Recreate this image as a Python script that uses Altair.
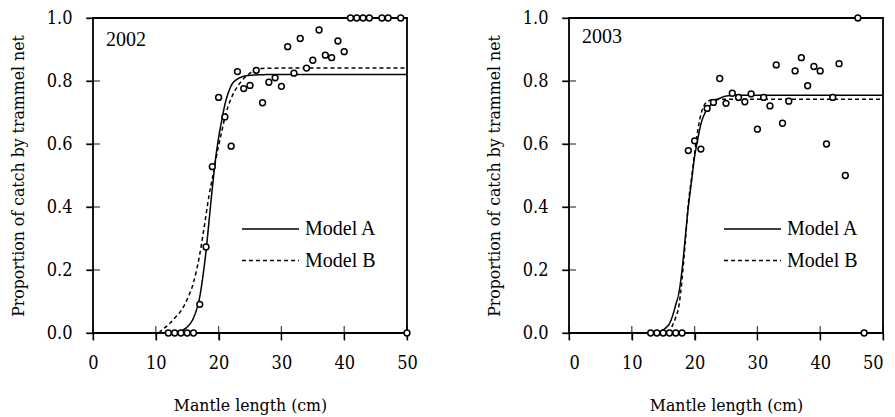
import altair as alt
import pandas as pd

# ---------------- data ----------------
years = ["2002", "2003"]

x2002 = [12, 13, 14, 15, 16, 17, 18, 19, 20, 21, 22, 23, 24, 25, 26, 27, 28, 29, 30,
         31, 32, 33, 34, 35, 36, 37, 38, 39, 40, 41, 42, 43, 44, 46, 47, 49, 50]
p2002 = [0, 0, 0, 0, 0, 0.091, 0.273, 0.528, 0.748, 0.686, 0.593, 0.830, 0.776, 0.786,
         0.834, 0.731, 0.796, 0.810, 0.783, 0.909, 0.825, 0.935, 0.841, 0.866, 0.962,
         0.882, 0.874, 0.927, 0.893, 1, 1, 1, 1, 1, 1, 1, 0]

x2003 = [13, 14, 15, 16, 17, 18, 19, 20, 21, 22, 23, 24, 25, 26, 27, 28, 29, 30, 31,
         32, 33, 34, 35, 36, 37, 38, 39, 40, 41, 42, 43, 44, 46, 47]
p2003 = [0, 0, 0, 0, 0, 0, 0.579, 0.610, 0.584, 0.713, 0.732, 0.808, 0.729, 0.761,
         0.748, 0.734, 0.759, 0.647, 0.748, 0.721, 0.851, 0.666, 0.736, 0.832, 0.874,
         0.785, 0.846, 0.832, 0.600, 0.748, 0.855, 0.500, 1.0, 0.0]

# fitted curves
a2002_x = [12, 13, 14, 15, 16, 16.5, 17, 17.5, 18, 18.5, 19, 19.5, 20, 20.5, 21, 21.5,
           22, 23, 24, 25, 27, 30, 40, 50]
a2002_y = [0.001, 0.003, 0.007, 0.019, 0.048, 0.075, 0.115, 0.18, 0.26, 0.36, 0.46,
           0.55, 0.62, 0.675, 0.725, 0.76, 0.785, 0.806, 0.815, 0.818, 0.82, 0.821,
           0.821, 0.821]
b2002_x = [10.5, 11, 12, 13, 14, 15, 16, 17, 17.5, 18, 18.5, 19, 19.5, 20, 20.5, 21,
           22, 23, 24, 25, 26, 27, 30, 40, 50]
b2002_y = [0, 0.01, 0.026, 0.047, 0.07, 0.107, 0.16, 0.25, 0.31, 0.375, 0.44, 0.49,
           0.545, 0.595, 0.64, 0.685, 0.745, 0.782, 0.808, 0.825, 0.836, 0.84, 0.841,
           0.841, 0.841]

a2003_x = [13.5, 14, 15, 15.5, 16, 16.5, 17, 17.5, 18, 18.5, 19, 19.5, 20, 20.5, 21,
           21.5, 22, 23, 24, 25, 27, 50]
a2003_y = [0, 0.002, 0.01, 0.018, 0.03, 0.055, 0.09, 0.128, 0.2, 0.3, 0.40, 0.48,
           0.56, 0.615, 0.663, 0.692, 0.71, 0.732, 0.745, 0.752, 0.755, 0.755]
b2003_x = [15.8, 16, 16.5, 17, 17.5, 18, 18.5, 19, 19.5, 20, 20.5, 21, 21.5, 22, 23,
           24, 50]
b2003_y = [0, 0.005, 0.025, 0.05, 0.086, 0.17, 0.285, 0.41, 0.49, 0.57, 0.642, 0.694,
           0.722, 0.735, 0.741, 0.742, 0.742]

models = ["Model A", "Model B"]
x_ticks = [0, 10, 20, 30, 40, 50]
y_ticks = [0.0, 0.2, 0.4, 0.6, 0.8, 1.0]

FONT = "Tinos"                       # text marks
AXFONT = "DejaVu Serif Condensed"    # axis labels and titles

points = {
    "2002": pd.DataFrame({"x": x2002, "p": p2002}),
    "2003": pd.DataFrame({"x": x2003, "p": p2003}),
}
curves = {
    "2002": pd.concat([
        pd.DataFrame({"x": a2002_x, "p": a2002_y, "model": models[0]}),
        pd.DataFrame({"x": b2002_x, "p": b2002_y, "model": models[1]}),
    ]),
    "2003": pd.concat([
        pd.DataFrame({"x": a2003_x, "p": a2003_y, "model": models[0]}),
        pd.DataFrame({"x": b2003_x, "p": b2003_y, "model": models[1]}),
    ]),
}
xt = pd.DataFrame({"v": x_ticks})
yt = pd.DataFrame({"v": y_ticks})

# layout (pixels within each plot area)
legend_pos = {"2002": (149, 206, 211), "2003": (155, 212, 211)}
year_pos = {"2002": (13, 22), "2003": (13, 19)}
ROW = 31.5
W, H = 314, 315

xscale = alt.Scale(domain=[0, 50], nice=False)
yscale = alt.Scale(domain=[0, 1], nice=False)
dash_scale = alt.Scale(domain=models, range=[[1, 0], [4, 3]])


def panel(year, last):
    xenc = alt.X("x:Q", scale=xscale,
                 axis=alt.Axis(values=x_ticks, title="Mantle length (cm)",
                               labelFont=AXFONT, titleFont=AXFONT,
                               labelFlush=last, labelOverlap=False))
    yenc = alt.Y("p:Q", scale=yscale,
                 axis=alt.Axis(values=y_ticks, format=".1f",
                               title="Proportion of catch by trammel net",
                               labelFont=AXFONT, titleFont=AXFONT,
                               labelFlush=False, labelOverlap=False))

    lines = alt.Chart(curves[year]).mark_line(
        color="black", strokeWidth=1.5, interpolate="monotone"
    ).encode(
        x=xenc, y=yenc,
        strokeDash=alt.StrokeDash("model:N", scale=dash_scale, legend=None),
        detail="model:N",
    )
    pts = alt.Chart(points[year]).mark_point(
        shape="circle", filled=False, fill="white", fillOpacity=1,
        stroke="black", strokeWidth=1.5, size=34, opacity=1
    ).encode(x="x:Q", y="p:Q")

    tx = alt.Chart(xt).mark_tick(orient="vertical", size=14, thickness=1.3,
                                 color="black").encode(
        x="v:Q", y=alt.datum(0))
    ty = alt.Chart(yt).mark_tick(orient="horizontal", size=14, thickness=1.3,
                                 color="black").encode(
        y="v:Q", x=alt.datum(0))

    yr = alt.Chart(pd.DataFrame({"t": [year]})).mark_text(
        font=FONT, fontSize=20, align="left", baseline="middle", color="black"
    ).encode(text="t:N", x=alt.value(year_pos[year][0]),
             y=alt.value(year_pos[year][1]))

    lx0, lx1, ly = legend_pos[year]
    leg = []
    for i, m in enumerate(models):
        d = pd.DataFrame({"model": [m]})
        leg.append(alt.Chart(d).mark_rule(color="black", strokeWidth=1.5).encode(
            x=alt.value(lx0), x2=alt.value(lx1), y=alt.value(ly + i * ROW),
            strokeDash=alt.StrokeDash("model:N", scale=dash_scale, legend=None)))
        leg.append(alt.Chart(d).mark_text(
            font=FONT, fontSize=20, align="left", baseline="middle", color="black"
        ).encode(text="model:N", x=alt.value(lx1 + 6), y=alt.value(ly + i * ROW)))

    return alt.layer(tx, ty, lines, pts, yr, *leg).properties(width=W, height=H)


chart = alt.hconcat(panel("2002", False), panel("2003", True), spacing=65).properties(
    padding={"left": 0, "top": 0, "right": 0, "bottom": 0}
).configure_view(
    stroke="black", strokeWidth=1.8
).configure_axis(
    labelFontSize=18, titleFontSize=17.5,
    labelColor="black", titleColor="black", titleFontWeight="normal",
    domain=False, grid=False, tickColor="black", tickSize=7, tickWidth=1.3,
).configure_axisX(
    labelPadding=14, titlePadding=24,
).configure_axisY(
    labelPadding=14, titlePadding=19,
)

chart.save("out.html", embed_options={"renderer": "svg", "actions": False})
